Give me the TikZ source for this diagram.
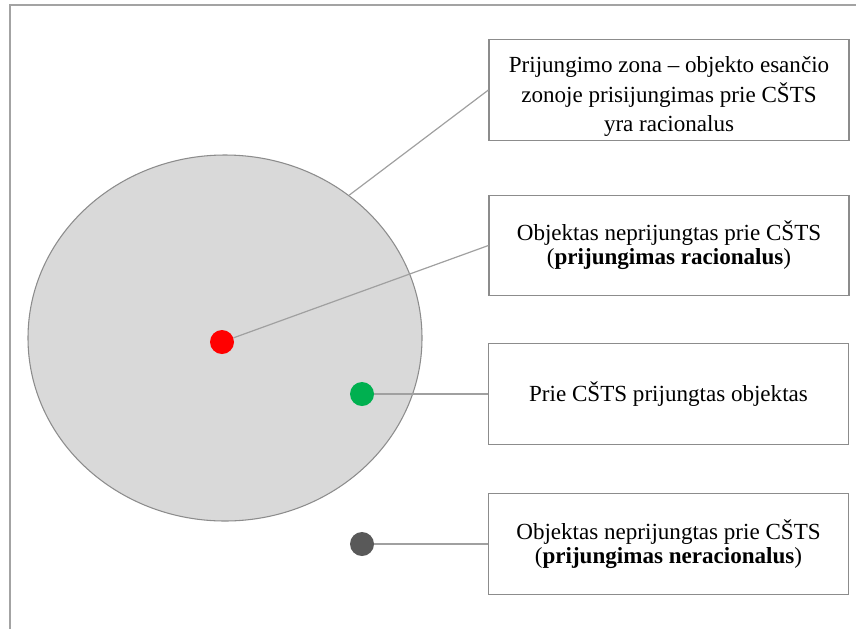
\documentclass[tikz,border=0pt]{standalone}
\usepackage{fontspec}
\setmainfont{Liberation Serif}
\usetikzlibrary{shapes.geometric}

\definecolor{zonefill}{RGB}{217,217,217}
\definecolor{edgegray}{RGB}{140,140,140}
\definecolor{linkgray}{RGB}{160,160,160}
\definecolor{dotgreen}{RGB}{0,176,80}
\definecolor{dotgray}{RGB}{89,89,89}

\tikzset{
  infobox/.style={draw=edgegray, line width=0.9pt, fill=white, align=center,
    minimum width=270pt, minimum height=75.5pt, inner sep=0pt,
    font=\fontsize{17.3}{18}\selectfont},
  dot/.style={circle, minimum size=18pt, inner sep=0pt},
  link/.style={draw=linkgray, line width=0.9pt}
}

\begin{document}
\begin{tikzpicture}[x=0.75pt,y=0.75pt,yscale=-1,xscale=1]
\useasboundingbox (0,0) rectangle (856,629);
% frame
\draw [edgegray!80, line width=1pt] (10,629) -- (10,5) -- (856,5) ;
% connection zone
\node [ellipse, draw=edgegray, fill=zonefill, line width=0.8pt, minimum width=295.5pt, minimum height=274.5pt, inner sep=0pt] (zone) at (225,338) {};
% objects
\node [dot, fill=red] (red) at (222,342) {};
\node [dot, fill=dotgreen] (green) at (362,394) {};
\node [dot, fill=dotgray] (gray) at (362,544) {};
% descriptions
\node [infobox, font=\fontsize{17.3}{22}\selectfont] (box1) at (669,90) {\raisebox{0pt}[22pt][0pt]{}Prijungimo zona -- objekto esančio\\zonoje prisijungimas prie CŠTS\\yra racionalus};
\node [infobox] (box2) at (669,245.5) {Objektas neprijungtas prie CŠTS\\(\textbf{prijungimas racionalus})};
\node [infobox] (box3) at (668.5,394) {Prie CŠTS prijungtas objektas};
\node [infobox] (box4) at (668.5,544) {Objektas neprijungtas prie CŠTS\\(\textbf{prijungimas neracionalus})};
% connectors
\draw [link] (zone.49) -- (box1.west) ;
\draw [link] (red) -- (box2.west) ;
\draw [link] (green) -- (box3.west) ;
\draw [link] (gray) -- (box4.west) ;
\end{tikzpicture}
\end{document}
